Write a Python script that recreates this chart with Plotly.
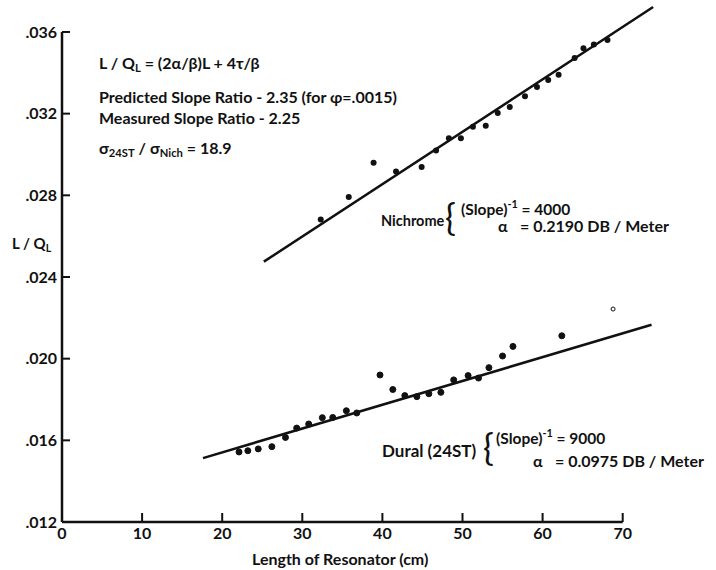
import plotly.graph_objects as go

# ---------------- data ----------------
nich_x = [32.3, 35.8, 38.9, 41.7, 44.9, 46.7, 48.3, 49.8, 51.3, 52.9,
          54.4, 55.9, 57.8, 59.3, 60.7, 62.0, 64.0, 65.1, 66.4, 68.1]
nich_y = [0.02681, 0.02792, 0.02960, 0.02917, 0.02939, 0.03020, 0.03079, 0.03079, 0.03136, 0.03141,
          0.03203, 0.03233, 0.03285, 0.03331, 0.03365, 0.03391, 0.03473, 0.03520, 0.03539, 0.03561]
nich_fit_x = [25.2, 73.8]
nich_fit_y = [0.02475, 0.03722]

dural_x = [22.1, 23.2, 24.5, 26.2, 27.9, 29.3, 30.8, 32.5, 33.8, 35.5, 36.8, 39.7, 41.3,
           42.8, 44.3, 45.8, 47.3, 48.9, 50.7, 52.0, 53.3, 55.0, 56.3, 62.4, 68.8]
dural_y = [0.01543, 0.01549, 0.01558, 0.01569, 0.01614, 0.01660, 0.01680, 0.01711, 0.01712,
           0.01745, 0.01734, 0.01920, 0.01849, 0.01819, 0.01814, 0.01828, 0.01835, 0.01896,
           0.01917, 0.01905, 0.01956, 0.02013, 0.02060, 0.02112, 0.02243]
dural_fit_x = [17.6, 73.6]
dural_fit_y = [0.01513, 0.02166]

x_ticks = [0, 10, 20, 30, 40, 50, 60, 70]
x_tick_text = ["0", "10", "20", "30", "40", "50", "60", "70"]
y_ticks = [0.012, 0.016, 0.020, 0.024, 0.028, 0.032, 0.036]
y_tick_text = [".012", ".016", ".020", ".024", ".028", ".032", ".036"]

X_RANGE = [0, 76.03]
Y_RANGE = [0.012, 0.03737]

# ---------------- layout geometry ----------------
W, H = 716, 570
ML, MR, MT, MB = 62, 45, 4, 48
PW, PH = W - ML - MR, H - MT - MB

def xp(px):
    return (px - ML) / PW

def yp(py):
    return (H - MB - py) / PH

FONT = "Lato"
BLACK = "#111111"

fig = go.Figure()

fig.add_trace(go.Scatter(x=nich_fit_x, y=nich_fit_y, mode="lines",
                         line=dict(color=BLACK, width=2.5), showlegend=False))
fig.add_trace(go.Scatter(x=dural_fit_x, y=dural_fit_y, mode="lines",
                         line=dict(color=BLACK, width=2.5), showlegend=False))
fig.add_trace(go.Scatter(x=nich_x, y=nich_y, mode="markers",
                         marker=dict(color=BLACK, size=6, opacity=1), showlegend=False))
dural_symbols = ["circle"] * (len(dural_x) - 1) + ["circle-open"]
dural_sizes = [6] * (len(dural_x) - 1) + [4]
fig.add_trace(go.Scatter(x=dural_x, y=dural_y, mode="markers",
                         marker=dict(color=BLACK, size=dural_sizes, symbol=dural_symbols,
                                     opacity=1, line=dict(color=BLACK, width=1)),
                         showlegend=False))

# axis lines (end at 70 and .036)
x_end = (70 - X_RANGE[0]) / (X_RANGE[1] - X_RANGE[0])
y_end = (0.036 - Y_RANGE[0]) / (Y_RANGE[1] - Y_RANGE[0])
fig.add_shape(type="line", xref="paper", yref="paper", x0=0, x1=x_end, y0=0, y1=0,
              line=dict(color=BLACK, width=2.5))
fig.add_shape(type="line", xref="paper", yref="paper", x0=0, x1=0, y0=0, y1=y_end,
              line=dict(color=BLACK, width=2.5))

# inward tick marks at the tick values
X_TICK_LEN = 9 / PH
Y_TICK_LEN = 8 / PW
for v in x_ticks[1:]:
    fig.add_shape(type="line", xref="x", yref="paper", x0=v, x1=v, y0=0, y1=X_TICK_LEN,
                  line=dict(color=BLACK, width=2))
for v in y_ticks[1:]:
    fig.add_shape(type="line", xref="paper", yref="y", x0=0, x1=Y_TICK_LEN, y0=v, y1=v,
                  line=dict(color=BLACK, width=2))

def note(text, px, py, size=16, anchor="left", weight="bold"):
    fig.add_annotation(text=text, xref="paper", yref="paper", x=xp(px), y=yp(py),
                       xanchor=anchor, yanchor="middle", showarrow=False,
                       font=dict(family=FONT, size=size, color=BLACK, weight=weight))

note("L / Q<sub>L</sub> = (2α/β)L + 4τ/β", 97, 64)
note("Predicted Slope Ratio - 2.35 (for φ=.0015)", 97, 97)
note("Measured Slope Ratio - 2.25", 97, 117)
note("σ<sub>24ST</sub> / σ<sub>Nich</sub> = 18.9", 97, 148)
note("L / Q<sub>L</sub>", 10, 244, size=15)

# Nichrome block
note("Nichrome", 379, 220, size=14.5)
note("{", 443, 217, size=36, weight="normal")
note("(Slope)<sup>-1</sup> = 4000", 459, 207, size=15.5)
note("α", 496, 225)
note("= 0.2190 DB / Meter", 518, 225)

# Dural block
note("Dural (24ST)", 380, 450, size=17)
note("{", 481, 447, size=36, weight="normal")
note("(Slope)<sup>-1</sup> = 9000", 494, 436, size=15.5)
note("α", 531, 460)
note("= 0.0975 DB / Meter", 553, 460)

# x axis title
note("Length of Resonator (cm)", 340, 558, size=16, anchor="center")

fig.update_layout(
    width=W, height=H,
    margin=dict(l=ML, r=MR, t=MT, b=MB, autoexpand=False),
    paper_bgcolor="white", plot_bgcolor="white",
    font=dict(family=FONT, size=16, color=BLACK, weight="bold"),
    xaxis=dict(range=X_RANGE, tickvals=x_ticks, ticktext=x_tick_text,
               ticks="", showgrid=False, zeroline=False, showline=False),
    yaxis=dict(range=Y_RANGE, tickvals=y_ticks,
               ticktext=[t + "\u00a0" for t in y_tick_text],
               ticks="", showgrid=False, zeroline=False, showline=False),
)

fig.write_html("out.html", config={"displayModeBar": False},
               post_script="document.body.style.margin='0';")
